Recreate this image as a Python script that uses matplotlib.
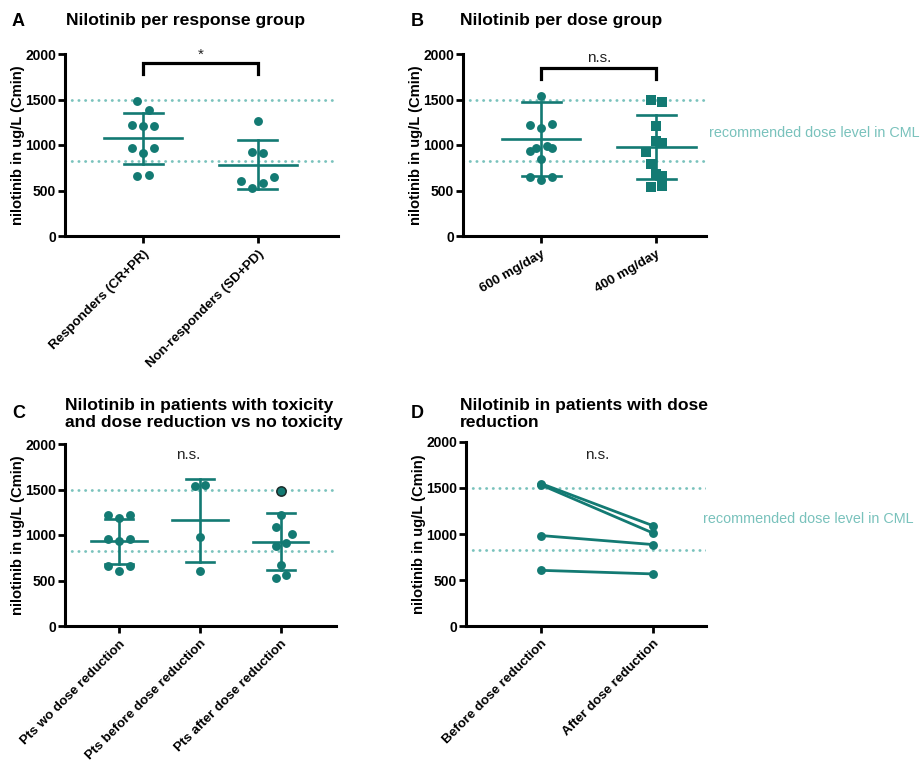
import matplotlib
matplotlib.use('Agg')
import matplotlib.pyplot as plt

plt.rcParams['font.family'] = ['Liberation Sans', 'DejaVu Sans']

# nilotinib Cmin values (ug/L)
resp_names = ['Responders (CR+PR)', 'Non-responders (SD+PD)']
responders = [1482, 1386, 1221, 1213, 1213, 965, 965, 913, 657, 675]
non_responders = [1265, 924, 910, 605, 649, 580, 532]
resp_mean = [1072, 782]
resp_sd = [281, 268]

dose_names = ['600 mg/day', '400 mg/day']
dose_600 = [1543, 1221, 1191, 1232, 971, 932, 987, 965, 847, 652, 652, 613]
dose_400 = [1496, 1474, 1213, 1048, 1026, 921, 792, 680, 655, 543, 550]
dose_mean = [1067, 976]
dose_sd = [407, 352]

tox_names = ['Pts wo dose reduction', 'Pts before dose reduction',
             'Pts after dose reduction']
no_reduction = [1225, 1192, 1225, 961, 932, 961, 657, 609, 657]
before_red = [1533, 1548, 983, 605]
after_red = [1482, 1218, 1086, 1012, 884, 910, 675, 528, 561]
tox_mean = [932, 1163, 928]
tox_sd = [246, 455, 312]

pair_names = ['Before dose reduction', 'After dose reduction']
pair_before = [1548, 1533, 983, 605]
pair_after = [1089, 1009, 885, 566]

target_range = [825, 1500]

# horizontal spread of the dots (in steps)
jit_resp = [-1, 1, -2, 0, 2, -2, 2, 0, -1, 1]
jit_nonresp = [0, -1, 1, -3, 3, 1, -1]
jit_600 = [0, -2, 0, 2, -1, -2, 1, 2, 0, -2, 2, 0]
jit_400 = [-1, 1, 0, 0, 1, -2, -1, 0, 1, -1, 1]
jit_nored = [-2, 0, 2, -2, 0, 2, -2, 0, 2]
jit_before = [-1, 1, 0, 0]
jit_after = [0, 0, -1, 2, -1, 1, 0, -1, 1]

TEAL = '#137a73'
LIGHT = '#79c2bc'

fig = plt.figure(figsize=(9.24, 7.62), dpi=100)


def make_axes(rect, names, xlim, rot):
    ax = fig.add_axes(rect)
    ax.set_xlim(*xlim)
    ax.set_ylim(0, 2000)
    for s in ['top', 'right']:
        ax.spines[s].set_visible(False)
    for s in ['left', 'bottom']:
        ax.spines[s].set_linewidth(2.2)
    ax.set_yticks([0, 500, 1000, 1500, 2000])
    ax.set_xticks(range(len(names)))
    ax.set_xticklabels(names, rotation=rot, ha='right', rotation_mode='anchor',
                       fontweight='bold', fontsize=9.6)
    ax.tick_params(axis='both', width=2, length=5)
    ax.tick_params(axis='y', pad=1.5, labelsize=10)
    for lab in ax.get_yticklabels():
        lab.set_fontweight('bold')
    ax.set_ylabel('nilotinib in ug/L (Cmin)', fontweight='bold', fontsize=10.6,
                  labelpad=0)
    for v in target_range:
        ax.axhline(v, color=LIGHT, lw=2, linestyle=(0, (0.1, 2.3)),
                   dash_capstyle='round', zorder=1)
    return ax


def strip(ax, x, vals, jit, step, marker='o', ms=6.4):
    xs = [x + j * step for j in jit]
    ax.plot(xs, vals, linestyle='none', marker=marker, ms=ms, color=TEAL,
            markeredgewidth=0, zorder=3, clip_on=False)


def mean_sd(ax, x, m, s):
    kw = dict(color=TEAL, lw=1.9, zorder=4)
    ax.plot([x - 0.34, x + 0.34], [m, m], **kw)
    ax.plot([x, x], [m - s, m + s], **kw)
    ax.plot([x - 0.17, x + 0.17], [m + s, m + s], **kw)
    ax.plot([x - 0.17, x + 0.17], [m - s, m - s], **kw)


def bracket(ax, x0, x1, top, drop, label, ly):
    ax.plot([x0, x0, x1, x1], [top - drop, top, top, top - drop],
            color='black', lw=2.3, solid_joinstyle='miter', clip_on=False)
    ax.text((x0 + x1) / 2, ly, label, ha='center', va='center', fontsize=11,
            color='#222222')


def heading(x_letter, x_title, y, letter, title):
    fig.text(x_letter / 924, 1 - y / 762, letter, fontsize=13,
             fontweight='bold', va='center')
    fig.text(x_title / 924, 1 - y / 762, title, fontsize=12.6,
             fontweight='bold', va='center', linespacing=1.1)


# A: response groups
axA = make_axes([65 / 924, 1 - 236 / 762, 273 / 924, 182 / 762], resp_names,
                (-0.68, 1.70), 45)
strip(axA, 0, responders, jit_resp, 0.048)
strip(axA, 1, non_responders, jit_nonresp, 0.048)
for i in range(2):
    mean_sd(axA, i, resp_mean[i], resp_sd[i])
bracket(axA, 0, 1, 1900, 115, '*', 1990)
heading(12, 66, 21, 'A', 'Nilotinib per response group')

# B: dose groups
axB = make_axes([463 / 924, 1 - 236 / 762, 243 / 924, 182 / 762], dose_names,
                (-0.68, 1.43), 30)
strip(axB, 0, dose_600, jit_600, 0.048)
strip(axB, 1, dose_400, jit_400, 0.046, marker='s', ms=6.9)
for i in range(2):
    mean_sd(axB, i, dose_mean[i], dose_sd[i])
bracket(axB, 0, 1, 1845, 115, 'n.s.', 1960)
axB.text(1.455, 1133, 'recommended dose level in CML', color=LIGHT,
         fontsize=10.4, va='center', clip_on=False)
heading(411, 460, 21, 'B', 'Nilotinib per dose group')

# C: toxicity / dose reduction
axC = make_axes([65 / 924, 1 - 626 / 762, 271 / 924, 182 / 762], tox_names,
                (-0.667, 2.68), 45)
strip(axC, 0, no_reduction, jit_nored, 0.066)
strip(axC, 1, before_red, jit_before, 0.066)
strip(axC, 2, after_red[1:], jit_after[1:], 0.066)
axC.plot(2 + jit_after[0] * 0.066, after_red[0], marker='o', ms=6.7,
         color=TEAL, markeredgecolor='#1c2b2a', markeredgewidth=1.1, zorder=3)
for i in range(3):
    mean_sd(axC, i, tox_mean[i], tox_sd[i])
axC.text(0.86, 1875, 'n.s.', ha='center', va='center', fontsize=11,
         color='#222222')
heading(12, 65, 414, 'C', 'Nilotinib in patients with toxicity\n'
        'and dose reduction vs no toxicity')

# D: paired before / after dose reduction
axD = make_axes([466 / 924, 1 - 626 / 762, 240 / 924, 184 / 762], pair_names,
                (-0.67, 1.47), 45)
for b, a in zip(pair_before, pair_after):
    axD.plot([0, 1], [b, a], color=TEAL, lw=2, marker='o', ms=6.4,
             markeredgewidth=0, zorder=3)
axD.text(0.5, 1860, 'n.s.', ha='center', va='center', fontsize=11,
         color='#222222')
axD.text(1.446, 1166, 'recommended dose level in CML', color=LIGHT,
         fontsize=10.4, va='center', clip_on=False)
heading(411, 460, 414, 'D', 'Nilotinib in patients with dose\nreduction')

fig.savefig('out.png', dpi=100)
